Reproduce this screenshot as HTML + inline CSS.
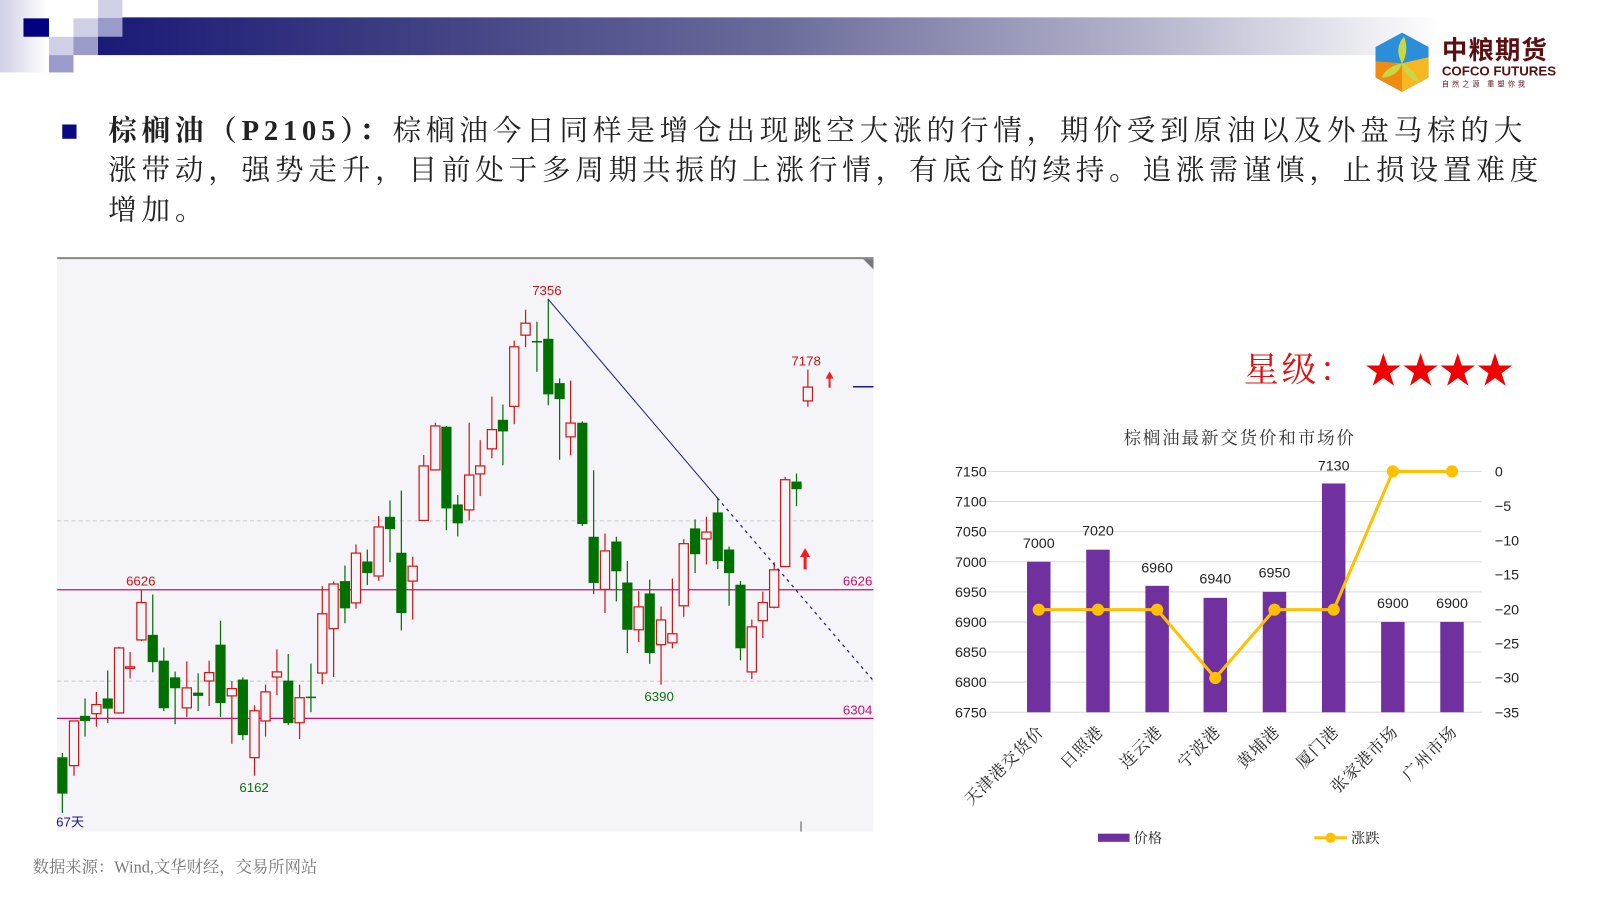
<!DOCTYPE html>
<html><head><meta charset="utf-8">
<style>
html,body{margin:0;width:1600px;height:900px;background:#fff;overflow:hidden;}
#w{position:absolute;left:0;top:0;width:1568px;height:882px;transform:scale(1.0204);transform-origin:0 0;font-family:"Liberation Sans","Noto Sans CJK SC",sans-serif;}
.abs{position:absolute;}
.txt{left:106px;font-family:"Liberation Serif","Noto Serif CJK SC",serif;font-size:28px;letter-spacing:4.7px;color:#222;white-space:nowrap;line-height:39px;}
</style></head><body><div id="w">
<!-- header -->
<div class="abs" style="left:0;top:0;width:47px;height:71px;background:linear-gradient(90deg,#cfd0e6,#fff)"></div>
<div class="abs" style="left:96px;top:17px;width:1464px;height:37px;background:linear-gradient(90deg,#1a1a78 0%,#3d3d82 20%,#6a6a9a 45%,#b4b4cc 70%,#fff 90%)"></div>
<div class="abs" style="left:23px;top:18px;width:25px;height:18px;background:#000080"></div>
<div class="abs" style="left:72px;top:18px;width:24px;height:18px;background:#cfd0e6"></div>
<div class="abs" style="left:96px;top:0;width:24px;height:18px;background:#cfd0e6"></div>
<div class="abs" style="left:96px;top:18px;width:24px;height:18px;background:#9b9bcb"></div>
<div class="abs" style="left:48px;top:36px;width:24px;height:18px;background:#cfd0e6"></div>
<div class="abs" style="left:72px;top:36px;width:24px;height:18px;background:#9b9bcb"></div>
<div class="abs" style="left:48px;top:54px;width:24px;height:17px;background:#9b9bcb"></div>
<!-- logo -->
<svg class="abs" style="left:1344px;top:30px" width="60" height="62" viewBox="0 0 60 62">
<polygon points="30,2 56,16 56,46 30,60 4,46 4,16" fill="#2a8fd8"/>
<polygon points="4,30 30,32 30,60 4,46" fill="#f08a10"/>
<polygon points="30,32 56,26 56,46 30,60" fill="#f5b820"/>
<path d="M30,32 C24,22 26,12 32,6 C36,16 34,26 30,32Z" fill="#c8d840"/>
<path d="M30,32 C20,34 12,40 10,46 C20,46 28,40 30,32Z" fill="#c8d840"/>
<path d="M30,32 C38,36 44,42 46,50 C36,48 32,40 30,32Z" fill="#c8d840"/>
</svg>
<div class="abs" style="left:1413px;top:34px;font-size:25px;font-weight:bold;color:#5a1010;font-family:'Noto Sans CJK SC',sans-serif;letter-spacing:1px;line-height:28px">中粮期货</div>
<div class="abs" style="left:1413px;top:63px;font-size:13px;font-weight:bold;color:#5a1010;line-height:14px">COFCO FUTURES</div>
<div class="abs" style="left:1413px;top:79px;font-size:7px;color:#5a1010;letter-spacing:3px;line-height:8px;font-family:'Noto Sans CJK SC',sans-serif">自然之源 重塑你我</div>
<!-- text -->
<div class="abs" style="left:61px;top:122px;width:14px;height:14px;background:#0a0a80"></div>
<div class="abs txt" style="top:109px"><b>棕榈油（P2105）：</b>棕榈油今日同样是增仓出现跳空大涨的行情，期价受到原油以及外盘马棕的大</div>
<div class="abs txt" style="top:148px">涨带动，强势走升，目前处于多周期共振的上涨行情，有底仓的续持。追涨需谨慎，止损设置难度</div>
<div class="abs txt" style="top:187px">增加。</div>
<!-- candle chart -->
<svg class="abs" style="left:0;top:0" width="900" height="830" id="kc">
<rect x="56" y="254" width="800" height="561" fill="#f5f4f9"/>
<line x1="56" y1="253" x2="856" y2="253" stroke="#888" stroke-width="2"/>
<polygon points="846,254 856,254 856,264" fill="#777"/>
<line x1="56" y1="510.5" x2="856" y2="510.5" stroke="#c8c8c8" stroke-dasharray="4,3"/>
<line x1="56" y1="667.5" x2="856" y2="667.5" stroke="#c8c8c8" stroke-dasharray="4,3"/>
<line x1="56" y1="578" x2="856" y2="578" stroke="#c8106a" stroke-width="1.2"/>
<line x1="56" y1="704" x2="856" y2="704" stroke="#c8106a" stroke-width="1.2"/>
<g id="cs"></g>
<polyline points="537,293 703,488" fill="none" stroke="#1a1a8a" stroke-width="1"/>
<line x1="703" y1="488" x2="855" y2="666" stroke="#1a1a8a" stroke-width="1.2" stroke-dasharray="3,4"/>
<line x1="836" y1="379" x2="856" y2="379" stroke="#1a1a8a" stroke-width="1.5"/>
<line x1="785" y1="805" x2="785" y2="815" stroke="#555"/>
<path d="M813,364 l-4,7 h3 v9 h2 v-9 h3z" fill="#f02020"/>
<path d="M789,537 l-5,9 h3.5 v12 h3 v-12 h3.5z" fill="#f02020"/>
<g font-family="Liberation Sans,sans-serif" font-size="13">
<text x="536" y="289" fill="#d01010" text-anchor="middle">7356</text>
<text x="790" y="358" fill="#d01010" text-anchor="middle">7178</text>
<text x="138" y="574" fill="#d01010" text-anchor="middle">6626</text>
<text x="249" y="776" fill="#107010" text-anchor="middle">6162</text>
<text x="646" y="687" fill="#107010" text-anchor="middle">6390</text>
<text x="826" y="574" fill="#c8106a">6626</text>
<text x="826" y="700" fill="#c8106a">6304</text>
<text x="55" y="810" fill="#1a1a8a" font-family="Liberation Sans,Noto Sans CJK SC,sans-serif">67天</text>
</g>
</svg>
<script>
var A=[[37,'g',1397,1497,1385,1550],[72,'r',1297,1420,1297,1448],[105,'g',1283,1297,1235,1340],[139,'r',1252,1277,1217,1313],[173,'g',1235,1263,1158,1303],[207,'r',1096,1275,1093,1277],[240,'r',1148,1151,1107,1180],[274,'r',971,1074,936,1077],[308,'g',1060,1135,949,1163],[341,'g',1131,1262,1095,1270],[375,'g',1177,1207,1161,1306],[410,'r',1206,1261,1133,1286],[444,'g',1219,1228,1166,1270],[477,'r',1164,1187,1131,1256],[511,'g',1087,1248,1021,1286],[545,'r',1208,1228,1187,1360],[578,'g',1183,1336,1177,1350],[613,'r',1269,1398,1254,1448],[646,'r',1217,1297,1197,1340],[680,'r',1162,1176,1100,1226],[714,'g',1186,1303,1113,1308],[748,'r',1233,1302,1197,1347],[782,'g',1230,1234,1139,1273],[816,'r',1002,1165,926,1196],[850,'r',920,1043,913,1176],[884,'g',912,987,869,1028],[917,'r',835,972,811,988],[951,'g',858,890,825,923],[985,'r',763,898,733,911],[1019,'g',735,769,690,860],[1053,'g',834,1000,663,1048],[1087,'r',871,912,845,1018],[1120,'r',595,745,565,745],[1155,'r',485,606,476,606],[1188,'g',487,712,485,772],[1222,'g',701,753,675,789]];
var B=[[56,'r',620,716,476,745],[89,'r',595,617,524,678],[124,'r',495,548,404,574],[157,'g',468,500,426,593],[191,'r',267,431,250,480],[225,'r',202,235,165,268],[259,'g',251,255,198,336],[293,'g',245,398,135,428],[327,'g',367,411,354,578],[360,'r',477,515,360,566],[395,'g',476,755,472,760],[429,'g',790,917,607,948],[463,'r',829,935,781,1000],[497,'g',803,885,790,968],[530,'g',916,1046,857,1110],[564,'r',983,1046,940,1080],[597,'g',946,1110,908,1140],[631,'r',1019,1087,982,1197],[665,'r',1057,1082,905,1097],[699,'r',809,980,796,1010],[733,'g',767,838,742,890],[767,'r',777,796,735,866],[801,'g',723,857,684,879],[835,'g',825,890,817,980],[869,'g',922,1097,912,1130],[903,'r',1038,1162,1018,1182],[936,'r',971,1021,941,1069],[970,'r',881,984,860,987],[1003,'r',633,872,625,872],[1037,'g',638,659,616,706],[1071,'r',378,416,330,432]];
var s='';
function Y(z){return 244.8+z*0.356;}
function add(L,off){L.forEach(function(c){var x=off+c[0]*0.327,col=c[1]=='r'?'#d41515':'#007000';
var t=Y(c[2]),b=Y(c[3]),h=Y(c[4]),l=Y(c[5]);if(b-t<1.5){b=t+1.5;}
s+='<line x1="'+x+'" y1="'+h+'" x2="'+x+'" y2="'+l+'" stroke="'+col+'" stroke-width="1.2"/>';
if(c[1]=='r')s+='<rect x="'+(x-4.5)+'" y="'+t+'" width="9" height="'+(b-t)+'" fill="#f5f4f9" stroke="'+col+'" stroke-width="1.2"/>';
else s+='<rect x="'+(x-5)+'" y="'+t+'" width="10" height="'+(b-t)+'" fill="'+col+'"/>';});}
add(A,49);add(B,441.5);
document.getElementById('cs').innerHTML=s;
</script>
<!-- stars -->
<div class="abs" style="left:1219px;top:343px;font-size:34px;color:#e01010;font-family:'Liberation Serif','Noto Serif CJK SC',serif;letter-spacing:3px;line-height:42px">星级：</div>
<div class="abs" style="left:1336px;top:340px;font-size:44px;color:#f00000;letter-spacing:-3px;line-height:48px;font-family:'DejaVu Sans',sans-serif">★★★★</div>
<!-- bar chart -->
<svg class="abs" style="left:900px;top:400px" width="600" height="450">
<text x="315" y="35" text-anchor="middle" font-size="17" font-family="Liberation Serif,Noto Serif CJK SC,serif" letter-spacing="2" fill="#333">棕榈油最新交货价和市场价</text>
<g stroke="#d9d9d9" stroke-width="1">
<line x1="62" y1="62" x2="552" y2="62"/><line x1="62" y1="91.5" x2="552" y2="91.5"/><line x1="62" y1="121" x2="552" y2="121"/><line x1="62" y1="150.5" x2="552" y2="150.5"/><line x1="62" y1="180" x2="552" y2="180"/><line x1="62" y1="209.5" x2="552" y2="209.5"/><line x1="62" y1="239" x2="552" y2="239"/><line x1="62" y1="268.5" x2="552" y2="268.5"/><line x1="62" y1="298" x2="552" y2="298"/>
</g>
<g font-size="14" fill="#222" text-anchor="end">
<text x="67" y="67">7150</text><text x="67" y="96.5">7100</text><text x="67" y="126">7050</text><text x="67" y="155.5">7000</text><text x="67" y="185">6950</text><text x="67" y="214.5">6900</text><text x="67" y="244">6850</text><text x="67" y="273.5">6800</text><text x="67" y="303">6750</text>
</g>
<g font-size="14" fill="#222">
<text x="565" y="67">0</text><text x="565" y="101">−5</text><text x="565" y="134.5">−10</text><text x="565" y="168">−15</text><text x="565" y="202">−20</text><text x="565" y="235.5">−25</text><text x="565" y="269">−30</text><text x="565" y="303">−35</text>
</g>
<g fill="#7030a0">
<rect x="106.5" y="150.5" width="23" height="147.5"/><rect x="164.5" y="138.7" width="23" height="159.3"/><rect x="222.5" y="174.1" width="23" height="123.9"/><rect x="279.5" y="185.9" width="23" height="112.1"/><rect x="337.5" y="180" width="23" height="118"/><rect x="395.5" y="73.8" width="23" height="224.2"/><rect x="453.5" y="209.5" width="23" height="88.5"/><rect x="511.5" y="209.5" width="23" height="88.5"/>
</g>
<g font-size="14" fill="#222" text-anchor="middle">
<text x="118" y="137">7000</text><text x="176" y="125">7020</text><text x="234" y="161">6960</text><text x="291" y="172">6940</text><text x="349" y="166">6950</text><text x="407" y="61">7130</text><text x="465" y="196">6900</text><text x="523" y="196">6900</text>
</g>
<polyline points="118,197.5 176,197.5 234,197.5 291,264.5 349,197.5 407,197.5 465,62 523,62" fill="none" stroke="#ffc000" stroke-width="3"/>
<g fill="#ffc000"><circle cx="118" cy="197.5" r="6"/><circle cx="176" cy="197.5" r="6"/><circle cx="234" cy="197.5" r="6"/><circle cx="291" cy="264.5" r="6"/><circle cx="349" cy="197.5" r="6"/><circle cx="407" cy="197.5" r="6"/><circle cx="465" cy="62" r="6"/><circle cx="523" cy="62" r="6"/></g>
<g font-size="16" fill="#222" text-anchor="end" font-family="Liberation Serif,Noto Serif CJK SC,serif" letter-spacing="1">
<text transform="translate(124,318) rotate(-45)">天津港交货价</text>
<text transform="translate(182,318) rotate(-45)">日照港</text>
<text transform="translate(240,318) rotate(-45)">连云港</text>
<text transform="translate(297,318) rotate(-45)">宁波港</text>
<text transform="translate(355,318) rotate(-45)">黄埔港</text>
<text transform="translate(413,318) rotate(-45)">厦门港</text>
<text transform="translate(471,318) rotate(-45)">张家港市场</text>
<text transform="translate(529,318) rotate(-45)">广州市场</text>
</g>
<rect x="176" y="417" width="31" height="8" fill="#7030a0"/>
<text x="211" y="426" font-size="14" fill="#222" font-family="Liberation Serif,Noto Serif CJK SC,serif">价格</text>
<line x1="388" y1="421" x2="420" y2="421" stroke="#ffc000" stroke-width="3"/><circle cx="404" cy="421" r="5" fill="#ffc000"/>
<text x="424" y="426" font-size="14" fill="#222" font-family="Liberation Serif,Noto Serif CJK SC,serif">涨跌</text>
</svg>
<div class="abs" style="left:32px;top:840px;font-size:16px;color:#777;font-family:'Liberation Serif','Noto Serif CJK SC',serif;line-height:22px">数据来源：Wind,文华财经，交易所网站</div>
</div></body></html>
